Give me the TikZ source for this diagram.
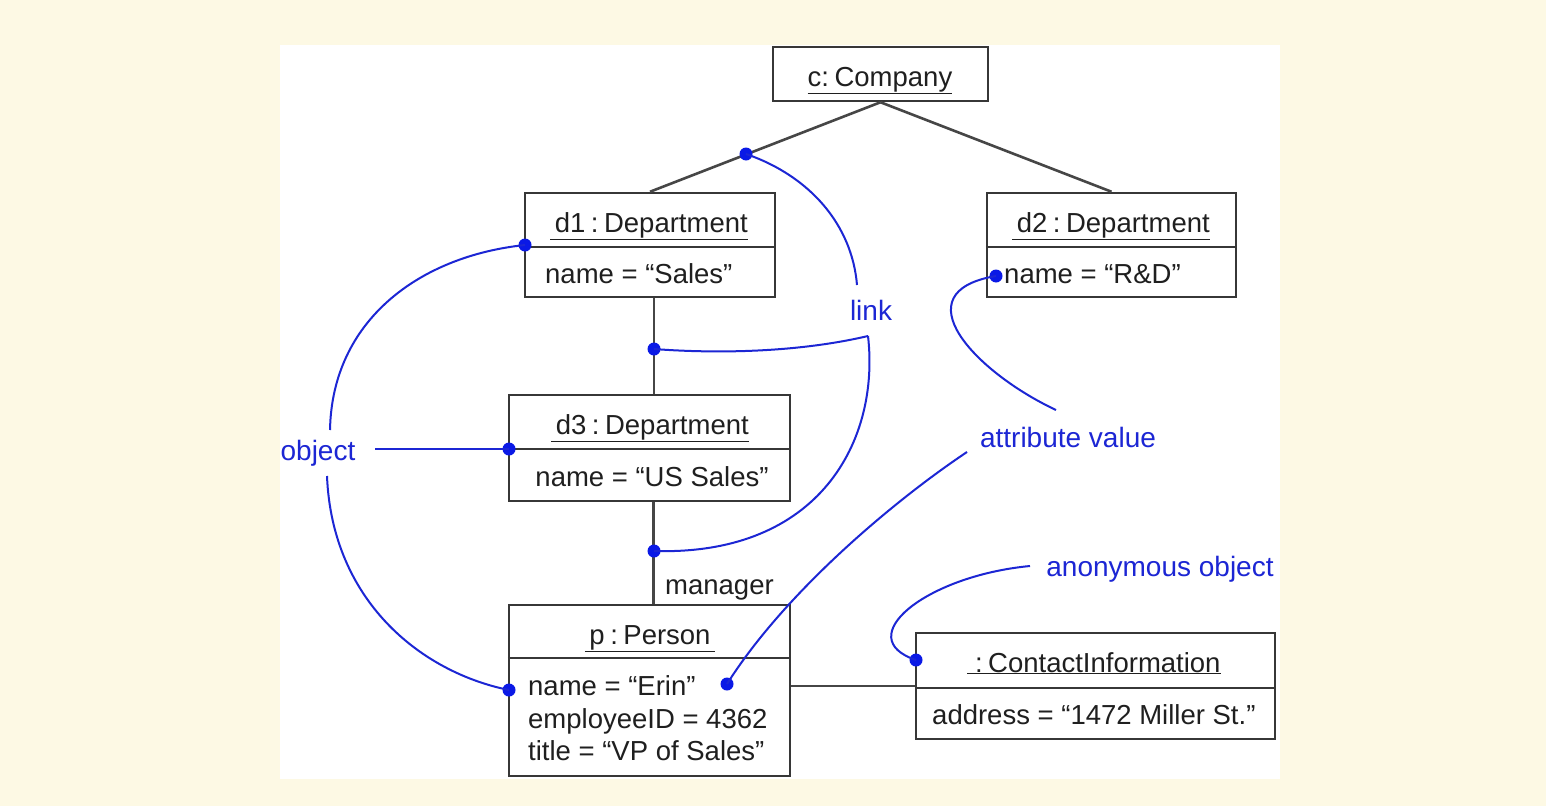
\documentclass[tikz,border=0pt]{standalone}
\usepackage{fontspec}
\setmainfont{Liberation Sans}
\usetikzlibrary{calc}
\definecolor{bgcream}{RGB}{253,249,228}
\definecolor{annblue}{RGB}{28,38,212}
\definecolor{dotblue}{RGB}{10,25,230}
\definecolor{boxgray}{RGB}{55,55,55}
\definecolor{linkgray}{RGB}{70,70,70}
\begin{document}
\begin{tikzpicture}[x=1pt,y=-1pt,
  objbox/.style={draw=boxgray, line width=2.5pt, fill=white, inner sep=0pt},
  divline/.style={draw=boxgray, line width=2.3pt},
  linkline/.style={draw=linkgray, line width=2.6pt},
  txt/.style={font=\fontsize{27.5}{32}\selectfont, text=black!88, inner sep=0pt},
  lbl/.style={font=\fontsize{28}{32}\selectfont, text=annblue, inner sep=0pt},
  annline/.style={draw=annblue, line width=2pt},
  bdot/.style={circle, fill=dotblue, inner sep=0pt, minimum size=13pt}]

\useasboundingbox (0,0) rectangle (1546,806);
\fill[bgcream] (0,0) rectangle (1546,806);
\fill[white] (280,45) rectangle (1280,779);

% ---- object boxes ----
\node[objbox, minimum width=215pt, minimum height=54pt] (c) at (880.5,74) {};
\node[objbox, minimum width=250pt, minimum height=104pt] (d1) at (650,245) {};
\node[objbox, minimum width=249pt, minimum height=104pt] (d2) at (1111.5,245) {};
\node[objbox, minimum width=281pt, minimum height=106pt] (d3) at (649.5,448) {};
\node[objbox, minimum width=281pt, minimum height=171pt] (p) at (649.5,690.5) {};
\node[objbox, minimum width=359pt, minimum height=106pt] (ci) at (1095.5,686) {};

% ---- links ----
\draw[linkline] (c.south) -- (d1.north);
\draw[linkline] (c.south) -- (d2.north);
\draw[linkline] ([xshift=4pt]d1.south) -- ([xshift=4pt]d1.south |- d3.north);
\draw[linkline] ([xshift=4pt]d3.south) -- ([xshift=4pt]d3.south |- p.north);
\draw[linkline] (p.east |- ci.west) -- (ci.west);

% dividers
\draw[divline] (d1.west |- 0,247) -- (d1.east |- 0,247);
\draw[divline] (d2.west |- 0,247) -- (d2.east |- 0,247);
\draw[divline] (d3.west |- 0,449) -- (d3.east |- 0,449);
\draw[divline] (p.west |- 0,658) -- (p.east |- 0,658);
\draw[divline] (ci.west |- 0,688) -- (ci.east |- 0,688);

% ---- texts ----
\node[txt, anchor=base] (ct) at (880,86) {\underline{c:\hspace{0.2em}Company}};
\node[txt, anchor=base] (d1t) at (649,232) {\underline{\,d1\hspace{0.2em}:\hspace{0.2em}Department}};
\node[txt, anchor=base west] (d1a) at (545,283) {name = “Sales”};
\node[txt, anchor=base] (d2t) at (1111,232) {\underline{\,d2\hspace{0.2em}:\hspace{0.2em}Department}};
\node[txt, anchor=base west] (d2a) at (1004,283) {name = “R\&D”};
\node[txt, anchor=base] (d3t) at (650,434) {\underline{\,d3\hspace{0.2em}:\hspace{0.2em}Department}};
\node[txt, anchor=base] (d3a) at (652,486) {name = “US Sales”};
\node[txt, anchor=base] (pt) at (650,644) {\underline{\,p\hspace{0.2em}:\hspace{0.2em}Person\,}};
\node[txt, anchor=base west] (pa1) at (528,695) {name = “Erin”};
\node[txt, anchor=base west] (pa2) at (528,728) {employeeID = 4362};
\node[txt, anchor=base west] (pa3) at (528,760) {title = “VP of Sales”};
\node[txt, anchor=base] (cit) at (1094,672) {\underline{\ :\hspace{0.2em}ContactInformation}};
\node[txt, anchor=base west] (cia) at (932,724) {address = “1472 Miller St.”};
\node[txt, anchor=base west] (mgr) at (665,594) {manager};

% ---- annotation labels ----
\node[lbl, anchor=base] (lnk) at (871,320) {link};
\node[lbl, anchor=base] (obj) at (318,460) {object};
\node[lbl, anchor=base] (attr) at (1068,447) {attribute value};
\node[lbl, anchor=base] (anon) at (1160,576) {anonymous object};

% ---- dots ----
\node[bdot] (dA) at (746,154) {};
\node[bdot] (dB) at (654,349) {};
\node[bdot] (dC) at (654,551) {};
\node[bdot] (dD) at (525,245) {};
\node[bdot] (dE) at (509,449) {};
\node[bdot] (dF) at (509,690) {};
\node[bdot] (dG) at (996,276) {};
\node[bdot] (dH) at (727,684) {};
\node[bdot] (dI) at (916,660) {};

% ---- annotation curves ----
\coordinate (lnkTop) at (857,285);
\coordinate (lnkBot) at (868,336);
\draw[annline] (dA.center) .. controls (810,176) and (852,225) .. (lnkTop);
\draw[annline] (lnkBot) .. controls (800,352) and (720,354) .. (dB.center);
\draw[annline] (lnkBot) .. controls (880,440) and (820,556) .. (dC.center);

\coordinate (objTop) at (330,430);
\coordinate (objRight) at (375,449);
\coordinate (objBot) at (327,476);
\draw[annline] (objTop) .. controls (332,320) and (420,256) .. (dD.center);
\draw[annline] (objRight) -- (dE.center);
\draw[annline] (objBot) .. controls (332,600) and (420,672) .. (dF.center);

\coordinate (attrTop) at (1056,410);
\coordinate (attrLeft) at (967,452);
\draw[annline] (attrTop) .. controls (975,372) and (900,292) .. (dG.center);
\draw[annline] (attrLeft) .. controls (895,500) and (785,592) .. (dH.center);

\coordinate (anonLeft) at (1030,566);
\draw[annline] (anonLeft) .. controls (925,576) and (850,638) .. (dI.center);
\end{tikzpicture}
\end{document}
